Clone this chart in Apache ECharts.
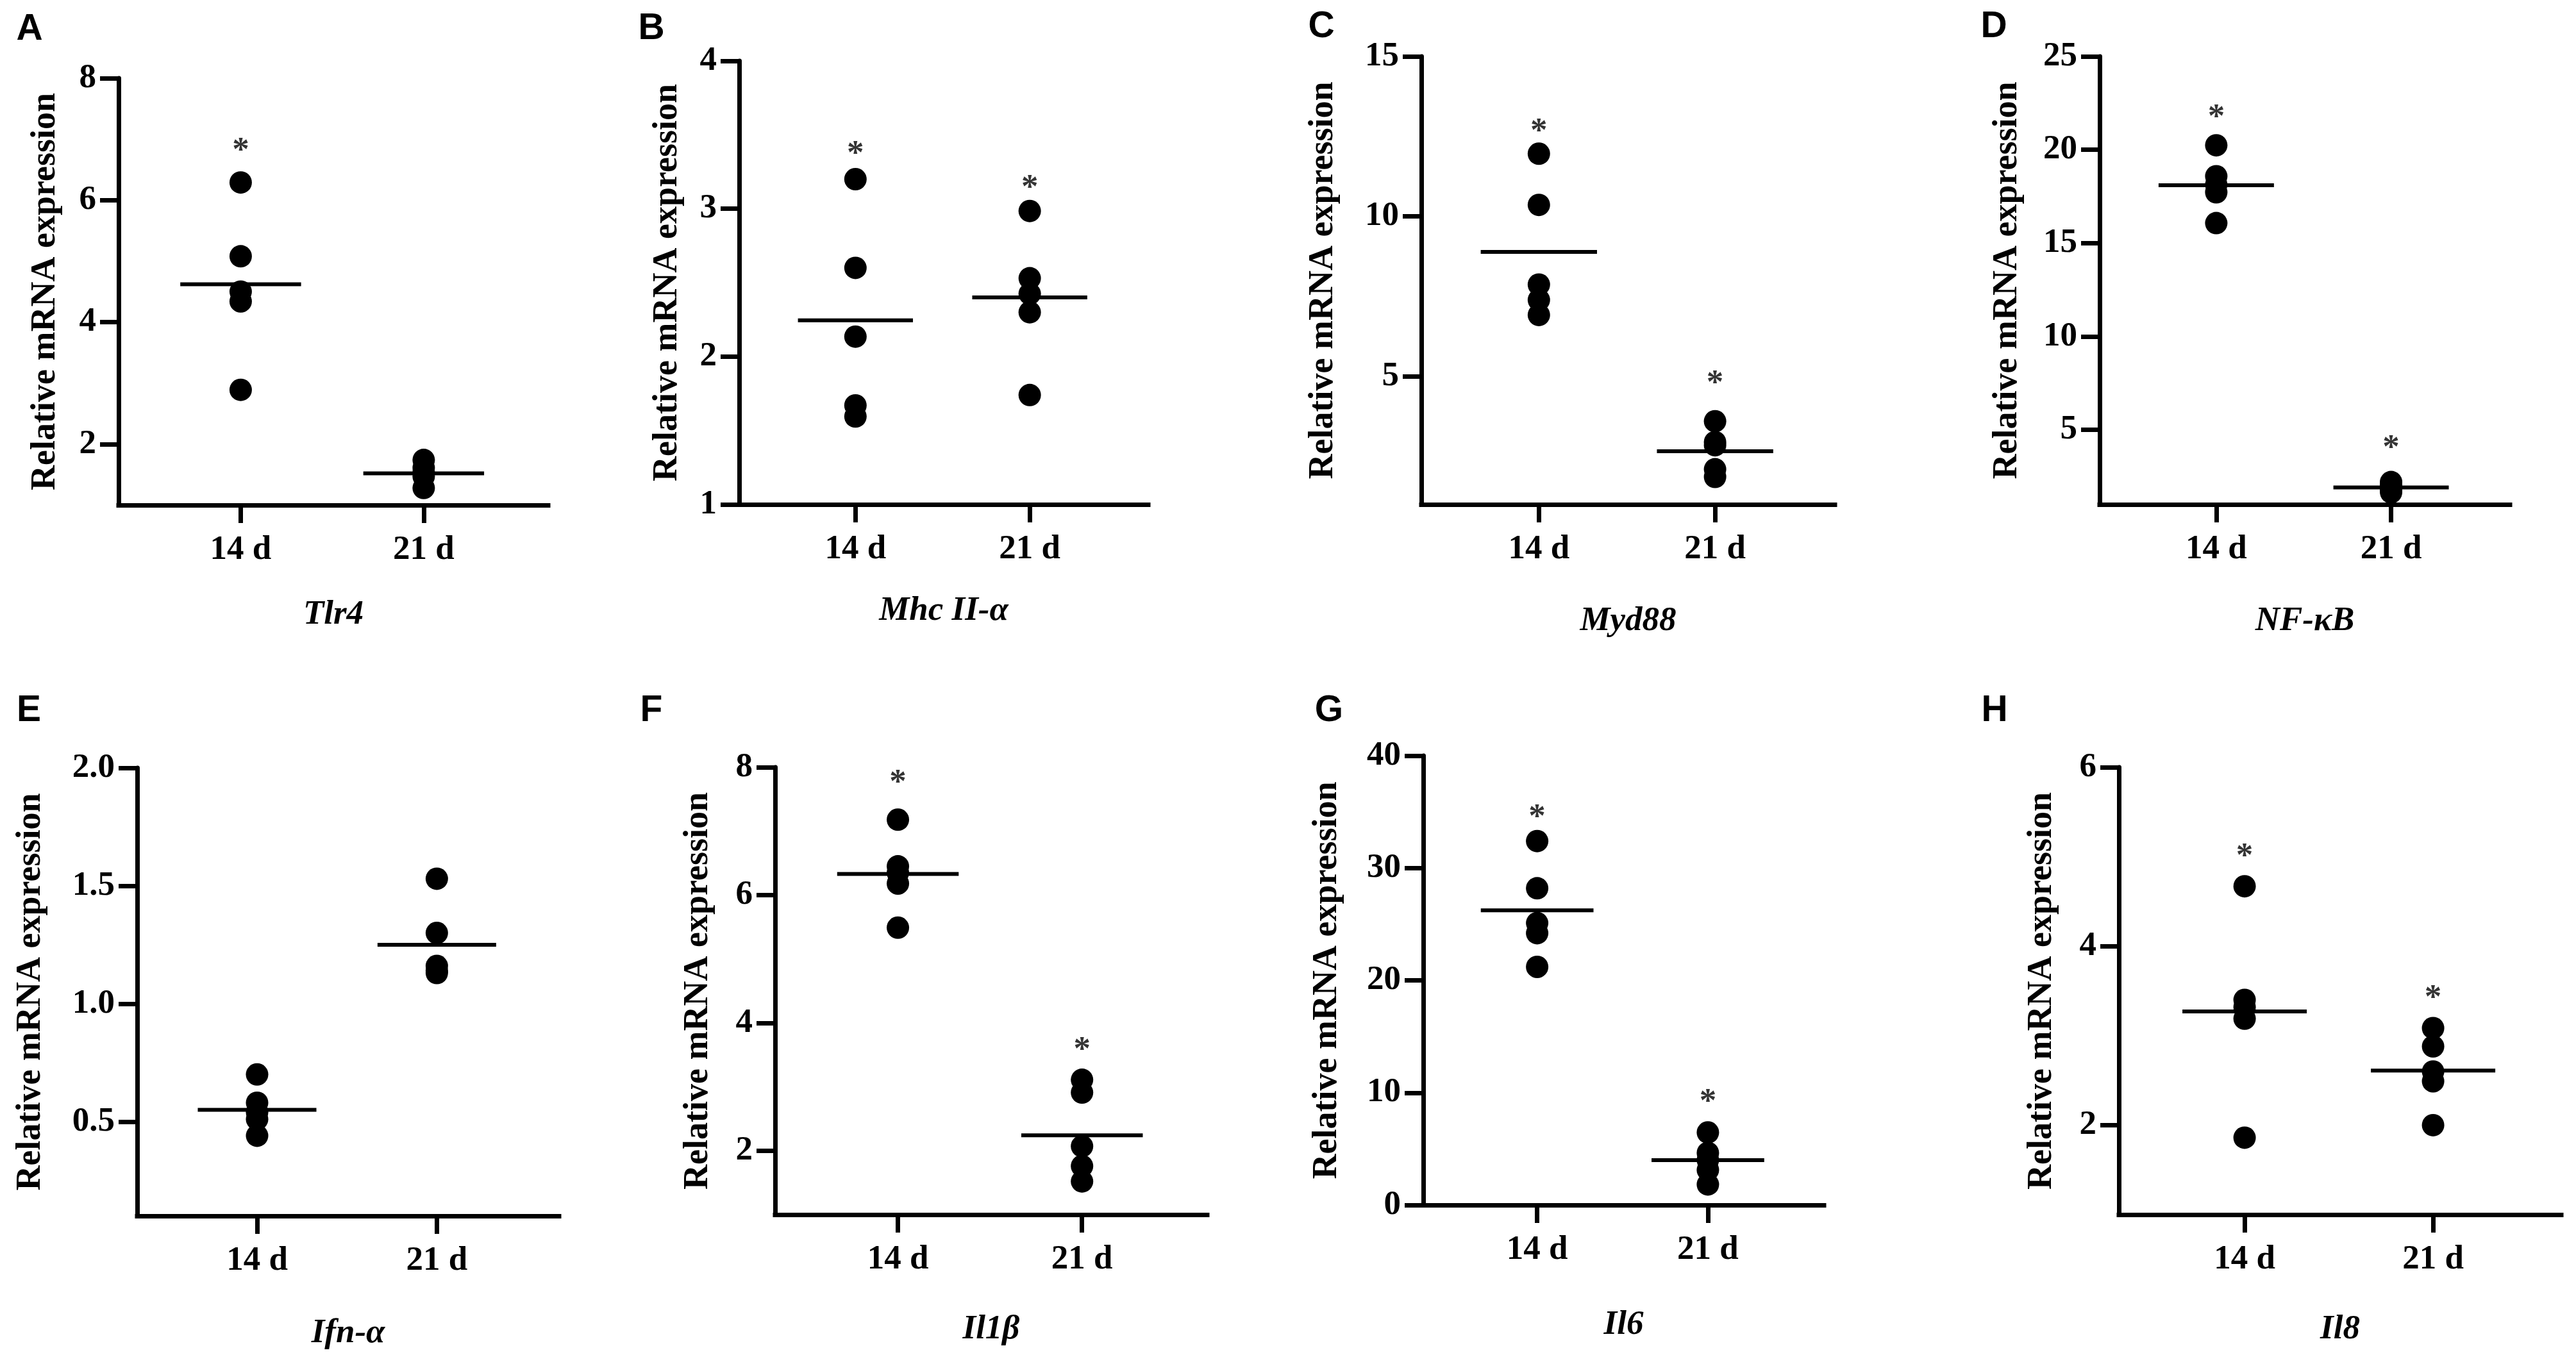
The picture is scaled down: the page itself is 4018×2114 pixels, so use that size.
<!DOCTYPE html>
<html>
<head>
<meta charset="UTF-8">
<title>Relative mRNA expression</title>
<script src="https://cdn.jsdelivr.net/npm/echarts@6/dist/echarts.min.js"></script>
<style>
  body { margin: 0; background: #fff; }
  #chart { width: 4018px; height: 2114px; }
</style>
</head>
<body>
<div id="chart"></div>
<script>
// groups on the x axis
const groups = ['14 d', '21 d']
const letters = ['A', 'B', 'C', 'D', 'E', 'F', 'G', 'H']
const genes = ['Tlr4', 'Mhc II-α', 'Myd88', 'NF-κB', 'Ifn-α', 'Il1β', 'Il6', 'Il8']

// individual values, [14 d, 21 d]
const tlr4 = [[6.29, 5.08, 4.50, 4.34, 2.89], [1.74, 1.61, 1.54, 1.47, 1.28]]
const mhc = [[3.20, 2.60, 2.135, 1.67, 1.595], [2.985, 2.53, 2.425, 2.30, 1.74]]
const myd88 = [[11.96, 10.36, 7.87, 7.39, 6.92], [3.60, 2.95, 2.85, 2.10, 1.86]]
const nfkb = [[20.24, 18.58, 18.13, 17.72, 16.07], [2.2, 2.05, 1.9, 1.75, 1.65]]
const ifna = [[0.70, 0.58, 0.54, 0.51, 0.44], [1.53, 1.30, 1.16, 1.14, 1.13]]
const il1b = [[7.18, 6.45, 6.35, 6.18, 5.49], [3.11, 2.91, 2.07, 1.76, 1.52]]
const il6 = [[32.4, 28.2, 25.1, 24.2, 21.2], [6.46, 4.64, 4.0, 3.12, 1.83]]
const il8 = [[4.67, 3.40, 3.32, 3.19, 1.86], [3.085, 2.88, 2.60, 2.49, 2.0]]
const values = [tlr4, mhc, myd88, nfkb, ifna, il1b, il6, il8]

// group means (the horizontal bars)
const means = [[4.62, 1.52], [2.245, 2.40], [8.89, 2.66], [18.1, 1.91],
  [0.55, 1.25], [6.33, 2.24], [26.24, 4.0], [3.27, 2.61]]

// height of the * marks, null = no mark
const stars = [[6.9, null], [3.41, 3.18], [12.83, 4.96], [22.03, 4.32],
  [null, null], [7.85, 3.66], [35.0, 9.7], [5.07, 3.48]]

// y axis ranges and ticks
const yMin = [1, 1, 1, 1, 0.1, 1, 0, 1]
const yMax = [8, 4, 15, 25, 2, 8, 40, 6]
const yTicks = [[2, 4, 6, 8], [1, 2, 3, 4], [5, 10, 15], [5, 10, 15, 20, 25],
  [0.5, 1, 1.5, 2], [2, 4, 6, 8], [0, 10, 20, 30, 40], [2, 4, 6]]
const yDecimals = [0, 0, 0, 0, 1, 0, 0, 0]

// layout: plot boxes [left, top, right, bottom] in px
const boxes = [
  [185, 122, 855, 788], [1153, 95, 1791, 787], [2217, 88, 2862, 787], [3275, 88, 3915, 787],
  [214, 1198, 872, 1897], [1209, 1197, 1883, 1895], [2220, 1179, 2845, 1880], [3305, 1197, 3995, 1895]
]
const yNameGap = [87, 85, 126, 117, 139, 93, 123, 93]
const xNameGap = [145, 140, 156, 156, 157, 153, 161, 153]
const letterPos = [[46, 46], [1016, 45], [2061, 42], [3110, 42],
  [45, 1109], [1016, 1109], [2073, 1109], [3111, 1109]]

const SERIF = 'Liberation Serif'
const FS = 53
const HALF = 0.33   // half width of the mean bar, in x units
const LW = 7        // axis stroke

const grid = [], xAxis = [], yAxis = [], series = [], graphic = []

boxes.forEach((b, i) => {
  grid.push({ left: b[0], top: b[1], width: b[2] - b[0], height: b[3] - b[1] })

  xAxis.push({
    gridIndex: i, type: 'value', min: 0.333, max: 2.68,
    name: genes[i], nameLocation: 'middle', nameGap: xNameGap[i],
    nameTextStyle: { fontFamily: SERIF, fontWeight: 'bold', fontStyle: 'italic', fontSize: FS, color: '#000' },
    axisLine: { lineStyle: { color: '#000', width: LW, cap: 'square' } },
    axisTick: { customValues: [1, 2], length: 28, lineStyle: { color: '#000', width: LW } },
    axisLabel: {
      customValues: [1, 2], margin: 44,
      formatter: v => groups[Math.round(v) - 1],
      fontFamily: SERIF, fontWeight: 'bold', fontSize: FS, color: '#000'
    },
    splitLine: { show: false }
  })

  yAxis.push({
    gridIndex: i, type: 'value', min: yMin[i], max: yMax[i],
    name: 'Relative mRNA expression', nameLocation: 'middle', nameRotate: 90, nameGap: yNameGap[i],
    nameTextStyle: { fontFamily: SERIF, fontWeight: 'bold', fontSize: 54, color: '#000' },
    axisLine: { show: true, lineStyle: { color: '#000', width: LW } },
    axisTick: { show: true, customValues: yTicks[i], length: 29, lineStyle: { color: '#000', width: LW } },
    axisLabel: {
      customValues: yTicks[i], margin: 35,
      formatter: v => v.toFixed(yDecimals[i]),
      fontFamily: SERIF, fontWeight: 'bold', fontSize: FS, color: '#000'
    },
    splitLine: { show: false }
  })

  // individual animals
  series.push({
    type: 'scatter', xAxisIndex: i, yAxisIndex: i,
    symbolSize: 35, itemStyle: { color: '#000', opacity: 1 },
    data: values[i].flatMap((arr, g) => arr.map(v => [g + 1, v]))
  })

  // mean bars
  means[i].forEach((m, g) => {
    series.push({
      type: 'line', xAxisIndex: i, yAxisIndex: i, symbol: 'none', z: 3,
      lineStyle: { color: '#000', width: 6 },
      data: [[g + 1 - HALF, m], [g + 1 + HALF, m]]
    })
  })

  // significance marks
  const starData = stars[i].map((s, g) => s === null ? null : [g + 1, s]).filter(d => d)
  if (starData.length) {
    series.push({
      type: 'scatter', xAxisIndex: i, yAxisIndex: i,
      symbolSize: 1, itemStyle: { color: 'rgba(0,0,0,0)' },
      label: {
        show: true, position: 'inside', formatter: '*', offset: [0, 10],
        fontFamily: SERIF, fontWeight: 'bold', fontSize: FS, color: '#000'
      },
      data: starData
    })
  }

  graphic.push({
    type: 'text', x: letterPos[i][0], y: letterPos[i][1],
    style: {
      text: letters[i], fill: '#000', align: 'center', verticalAlign: 'middle',
      font: 'bold 57px "Liberation Sans", Arial, sans-serif'
    }
  })
})

const chart = echarts.init(document.getElementById('chart'))
chart.setOption({
  animation: false,
  backgroundColor: '#fff',
  grid, xAxis, yAxis, series, graphic
})
</script>
</body>
</html>
